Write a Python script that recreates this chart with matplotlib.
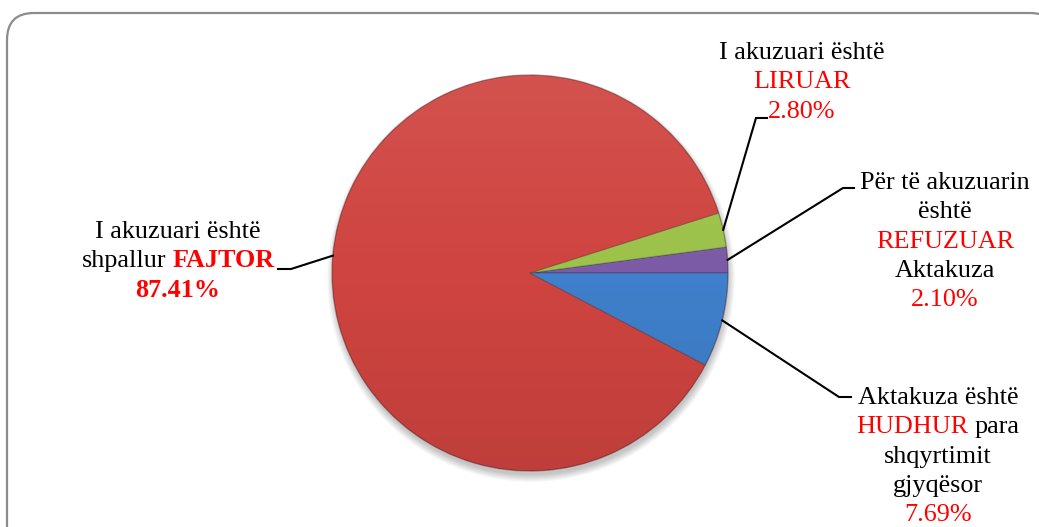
import numpy as np
import matplotlib.pyplot as plt
from matplotlib.patches import FancyBboxPatch, Circle

plt.rcParams['font.family'] = ['Liberation Serif', 'DejaVu Serif']

W, H = 1039, 527

# slices, counter-clockwise from 3 o'clock
categories = ["REFUZUAR", "LIRUAR", "FAJTOR", "HUDHUR"]
shares = [2.10, 2.80, 87.41, 7.69]
colors = ["#7B5BA6", "#9CC24A", "#CF4440", "#3F7FCB"]

RED = "#FF0000"
BLACK = "#000000"

# label lines: each line is a list of (text, color, bold); None = percent value
label_lines = {
    "LIRUAR": [[("I akuzuari është", BLACK, False)],
               [("LIRUAR", RED, False)],
               [(None, RED, False)]],
    "REFUZUAR": [[("Për të akuzuarin", BLACK, False)],
                 [("është", BLACK, False)],
                 [("REFUZUAR", RED, False)],
                 [("Aktakuza", BLACK, False)],
                 [(None, RED, False)]],
    "HUDHUR": [[("Aktakuza është", BLACK, False)],
               [("HUDHUR", RED, False), ("para", BLACK, False)],
               [("shqyrtimit", BLACK, False)],
               [("gjyqësor", BLACK, False)],
               [(None, RED, False)]],
    "FAJTOR": [[("I akuzuari është", BLACK, False)],
               [("shpallur", BLACK, False), ("FAJTOR", RED, True)],
               [(None, RED, True)]],
}

# layout in pixels from the top-left: text centre x, first baseline y, elbow, end of leader
layout = {
    "LIRUAR": dict(cx=802, y0=59, elbow=(756, 118), end=(767, 118)),
    "REFUZUAR": dict(cx=945, y0=189, elbow=(843, 188), end=(854, 188)),
    "HUDHUR": dict(cx=938, y0=404, elbow=(839, 397), end=(851, 397)),
    "FAJTOR": dict(cx=178, y0=238, elbow=(291, 269), end=(278, 269)),
}
line_gap = 29.3
fsize = 18.8

cx_pie, cy_pie, R = 530, H - 273, 198

fig = plt.figure(figsize=(W / 100, H / 100), dpi=100)
ax = fig.add_axes([0, 0, 1, 1])

# rounded frame
frame = FancyBboxPatch((7, -40), 1050, H - 13 + 40,
                       boxstyle="round,pad=0,rounding_size=27",
                       facecolor="white", edgecolor="#8C8C8C", lw=1.6, zorder=0)
ax.add_patch(frame)

# soft shadow under pie
for i in range(10):
    ax.add_patch(Circle((cx_pie + 1, cy_pie - 5), R + 6 - i * 0.8,
                        facecolor="black", edgecolor="none", alpha=0.022, zorder=1))

wedges, _ = ax.pie(shares, colors=colors, startangle=0, counterclock=True,
                   center=(cx_pie, cy_pie), radius=R, frame=True,
                   wedgeprops=dict(edgecolor=(0, 0, 0, 0.2), linewidth=0.8))
for w in wedges:
    w.set_zorder(2)

# light-to-dark gradient over the pie
n = 256
grad = np.zeros((n, 1, 4))
t = np.linspace(0, 1, n)
grad[:, 0, :3] = np.where(t[:, None] < 0.5, 1.0, 0.0)
grad[:, 0, 3] = np.abs(t - 0.5) * 0.16
im = ax.imshow(grad, extent=[cx_pie - R, cx_pie + R, cy_pie - R, cy_pie + R],
               aspect="auto", zorder=3, interpolation="bilinear")
im.set_clip_path(Circle((cx_pie, cy_pie), R, transform=ax.transData))
ax.add_patch(Circle((cx_pie, cy_pie), R, facecolor="none",
                    edgecolor=(0.3, 0, 0, 0.2), lw=1.0, zorder=4))

ax.set_xlim(0, W)
ax.set_ylim(0, H)
ax.set_aspect("equal")
ax.axis("off")

renderer = fig.canvas.get_renderer()


def text_width(s, bold):
    tt = ax.text(0, 0, s, fontsize=fsize, fontweight="bold" if bold else "normal")
    wdt = tt.get_window_extent(renderer).width
    tt.remove()
    return wdt


space_w = text_width("a a", False) - text_width("aa", False)

for name, share, wedge in zip(categories, shares, wedges):
    lay = layout[name]
    # leader line from the wedge's mid-angle on the rim
    mid = np.deg2rad((wedge.theta1 + wedge.theta2) / 2)
    sx = cx_pie + R * np.cos(mid)
    sy = cy_pie + R * np.sin(mid)
    ex, ey = lay["elbow"]
    tx, ty = lay["end"]
    ax.plot([sx, ex, tx], [sy, H - ey, H - ty], color="black", lw=1.5,
            solid_joinstyle="miter", zorder=5)

    for k, line in enumerate(label_lines[name]):
        pieces = [(("{:.2f}%".format(share) if s is None else s), c, b)
                  for s, c, b in line]
        widths = [text_width(s, b) for s, c, b in pieces]
        total = sum(widths) + space_w * (len(pieces) - 1)
        x = lay["cx"] - total / 2
        y = H - (lay["y0"] + k * line_gap)
        for (s, c, b), wd in zip(pieces, widths):
            ax.text(x, y, s, fontsize=fsize, color=c, ha="left", va="baseline",
                    fontweight="bold" if b else "normal", zorder=6)
            x += wd + space_w

fig.savefig("out.png", dpi=100)
